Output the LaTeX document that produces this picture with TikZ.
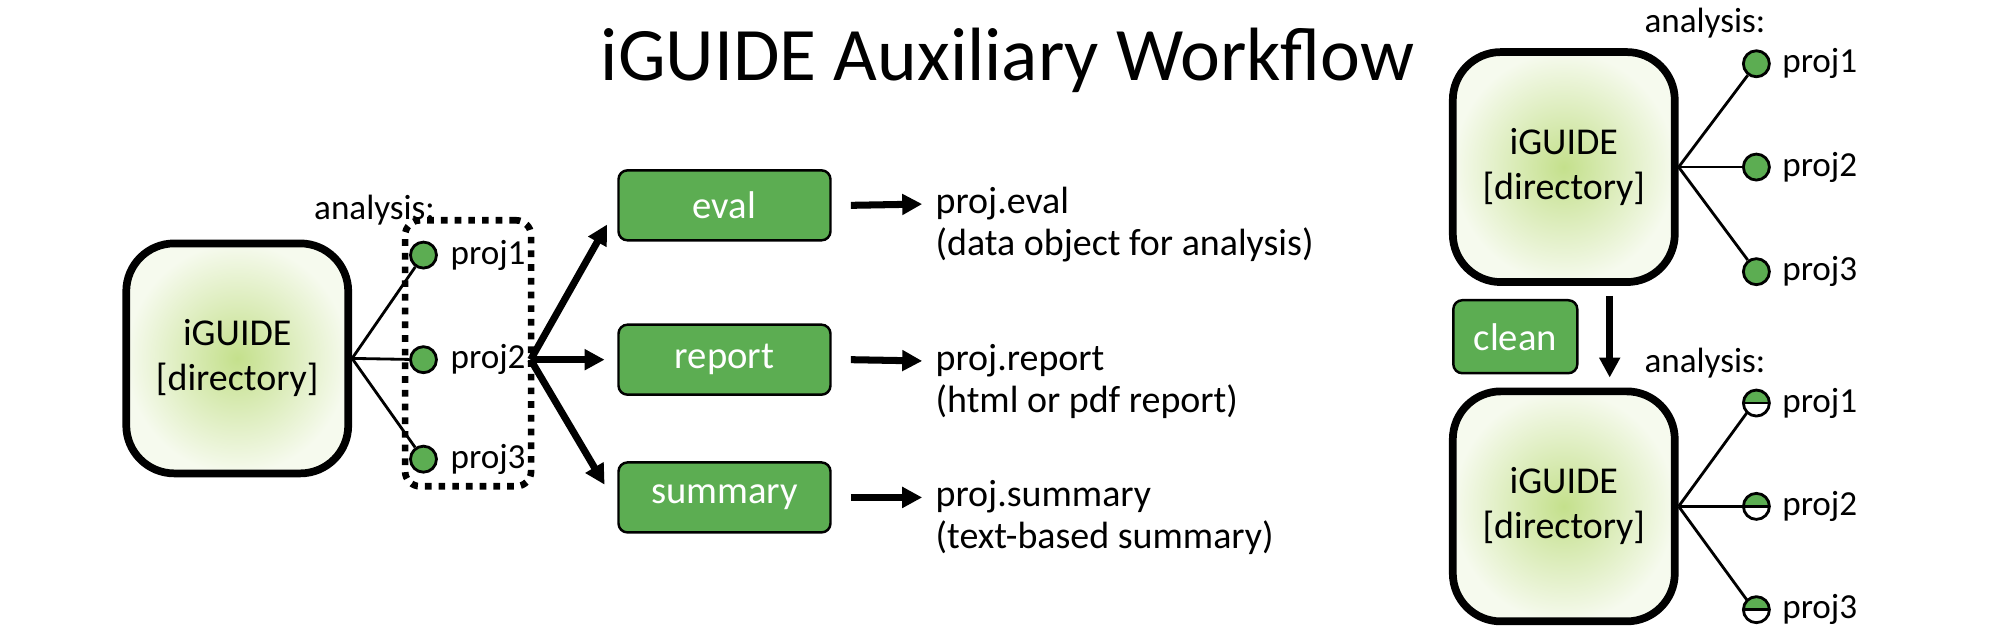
\documentclass[tikz,border=0pt]{standalone}
\usepackage{fontspec}
\setmainfont{Carlito}
\usetikzlibrary{arrows.meta,calc}
\definecolor{gr}{RGB}{92,173,82}
\definecolor{lg}{RGB}{196,224,140}
\definecolor{og}{RGB}{246,250,238}
\tikzset{
 P/.style={x=0.012755cm,y=-0.012755cm},
 dir/.style={draw,line width=2.2pt,rounded corners=0.48cm,minimum width=2.22cm,minimum height=2.3cm,inner color=lg,outer color=og,align=center,font=\fontsize{10.8}{12.8}\selectfont},
 gbox/.style={draw,fill=gr,line width=0.7pt,rounded corners=0.09cm,minimum width=2.12cm,minimum height=0.7cm,text=white,font=\fontsize{11}{13}\selectfont},
 dot/.style={circle,draw,fill=gr,minimum size=0.26cm,inner sep=0pt,line width=0.8pt},
 lbl/.style={anchor=west,font=\fontsize{10}{12}\selectfont,inner sep=1pt},
 txt/.style={anchor=west,align=left,font=\fontsize{10.8}{12}\selectfont,inner sep=0pt},
 big/.style={-{Triangle[length=0.2cm,width=0.2cm]},line width=2pt},
}
\newcommand{\halfdot}[1]{%
 \fill[gr] ($(#1)+(-0.13cm,0cm)$) arc[start angle=180,end angle=0,radius=0.13cm] -- cycle;
 \draw[line width=0.8pt] (#1) circle[radius=0.13cm];
 \draw[line width=0.8pt] ($(#1)+(-0.13cm,0cm)$) -- ($(#1)+(0.13cm,0cm)$);}
\begin{document}
\begin{tikzpicture}[P]
\useasboundingbox (0,0) rectangle (1568,500);
\node[font=\fontsize{21.5}{24}\selectfont] (title) at (790,47) {iGUIDE Auxiliary Workflow};
% left
\node[dir] (L) at (186,281) {iGUIDE\\{}[directory]};
\node[draw,dotted,line width=1.9pt,rounded corners=0.15cm,minimum width=1.26cm,minimum height=2.66cm] (grp) at (367,277) {};
\node[lbl] (an) at (243,165) {analysis:};
\node[dot] (a1) at (332,200) {}; \node[lbl] (a1t) at (350,200) {proj1};
\node[dot] (a2) at (332,282) {}; \node[lbl] (a2t) at (350,282) {proj2};
\node[dot] (a3) at (332,360) {}; \node[lbl] (a3t) at (350,360) {proj3};
\foreach \c in {a1,a2,a3} \draw[line width=0.8pt] (L.east) -- (\c);
\coordinate (src) at (416,282);
\node[gbox] (ev) at (568,161) {eval};
\node[gbox] (rp) at (568,282) {report};
\node[gbox] (sm) at (568,390) {summary};
\draw[big] (src) -- (476,176);
\draw[big] (src) -- (474,282);
\draw[big] (src) -- (474,380);
\node[txt] (o1) at (733,176) {proj.eval\\(data object for analysis)};
\node[txt] (o2) at (733,299) {proj.report\\(html or pdf report)};
\node[txt] (o3) at (733,406) {proj.summary\\(text-based summary)};
\coordinate (e1) at (723,160); \coordinate (e2) at (723,283); \coordinate (e3) at (723,390);
\draw[big] ($(ev.east)+(15,0)$) -- (e1);
\draw[big] ($(rp.east)+(15,0)$) -- (e2);
\draw[big] ($(sm.east)+(15,0)$) -- (e3);
% right top
\node[dir] (R1) at (1226,131) {iGUIDE\\{}[directory]};
\node[lbl] at (1286,18) {analysis:};
\node[dot] (b1) at (1377,50) {}; \node[lbl] at (1394,50) {proj1};
\node[dot] (b2) at (1377,131) {}; \node[lbl] at (1394,131) {proj2};
\node[dot] (b3) at (1377,213) {}; \node[lbl] at (1394,213) {proj3};
\foreach \c in {b1,b2,b3} \draw[line width=0.8pt] (R1.east) -- (\c);
\node[gbox,minimum width=1.24cm,minimum height=0.73cm] (cl) at (1188,264) {clean};
\coordinate (d0) at (1262,232); \coordinate (d1) at (1262,296);
\draw[big] (d0) -- (d1);
% right bottom
\node[dir] (R2) at (1226,397) {iGUIDE\\{}[directory]};
\node[lbl] at (1286,285) {analysis:};
\coordinate (c1) at (1377,316); \coordinate (c2) at (1377,397); \coordinate (c3) at (1377,478);
\draw[line width=0.8pt] (R2.east) -- ($(c1)+(-7,7)$);
\draw[line width=0.8pt] (R2.east) -- ($(c2)+(-10,0)$);
\draw[line width=0.8pt] (R2.east) -- ($(c3)+(-7,-7)$);
\halfdot{c1} \halfdot{c2} \halfdot{c3}
\node[lbl] at (1394,316) {proj1};
\node[lbl] at (1394,397) {proj2};
\node[lbl] at (1394,478) {proj3};
\end{tikzpicture}
\end{document}
